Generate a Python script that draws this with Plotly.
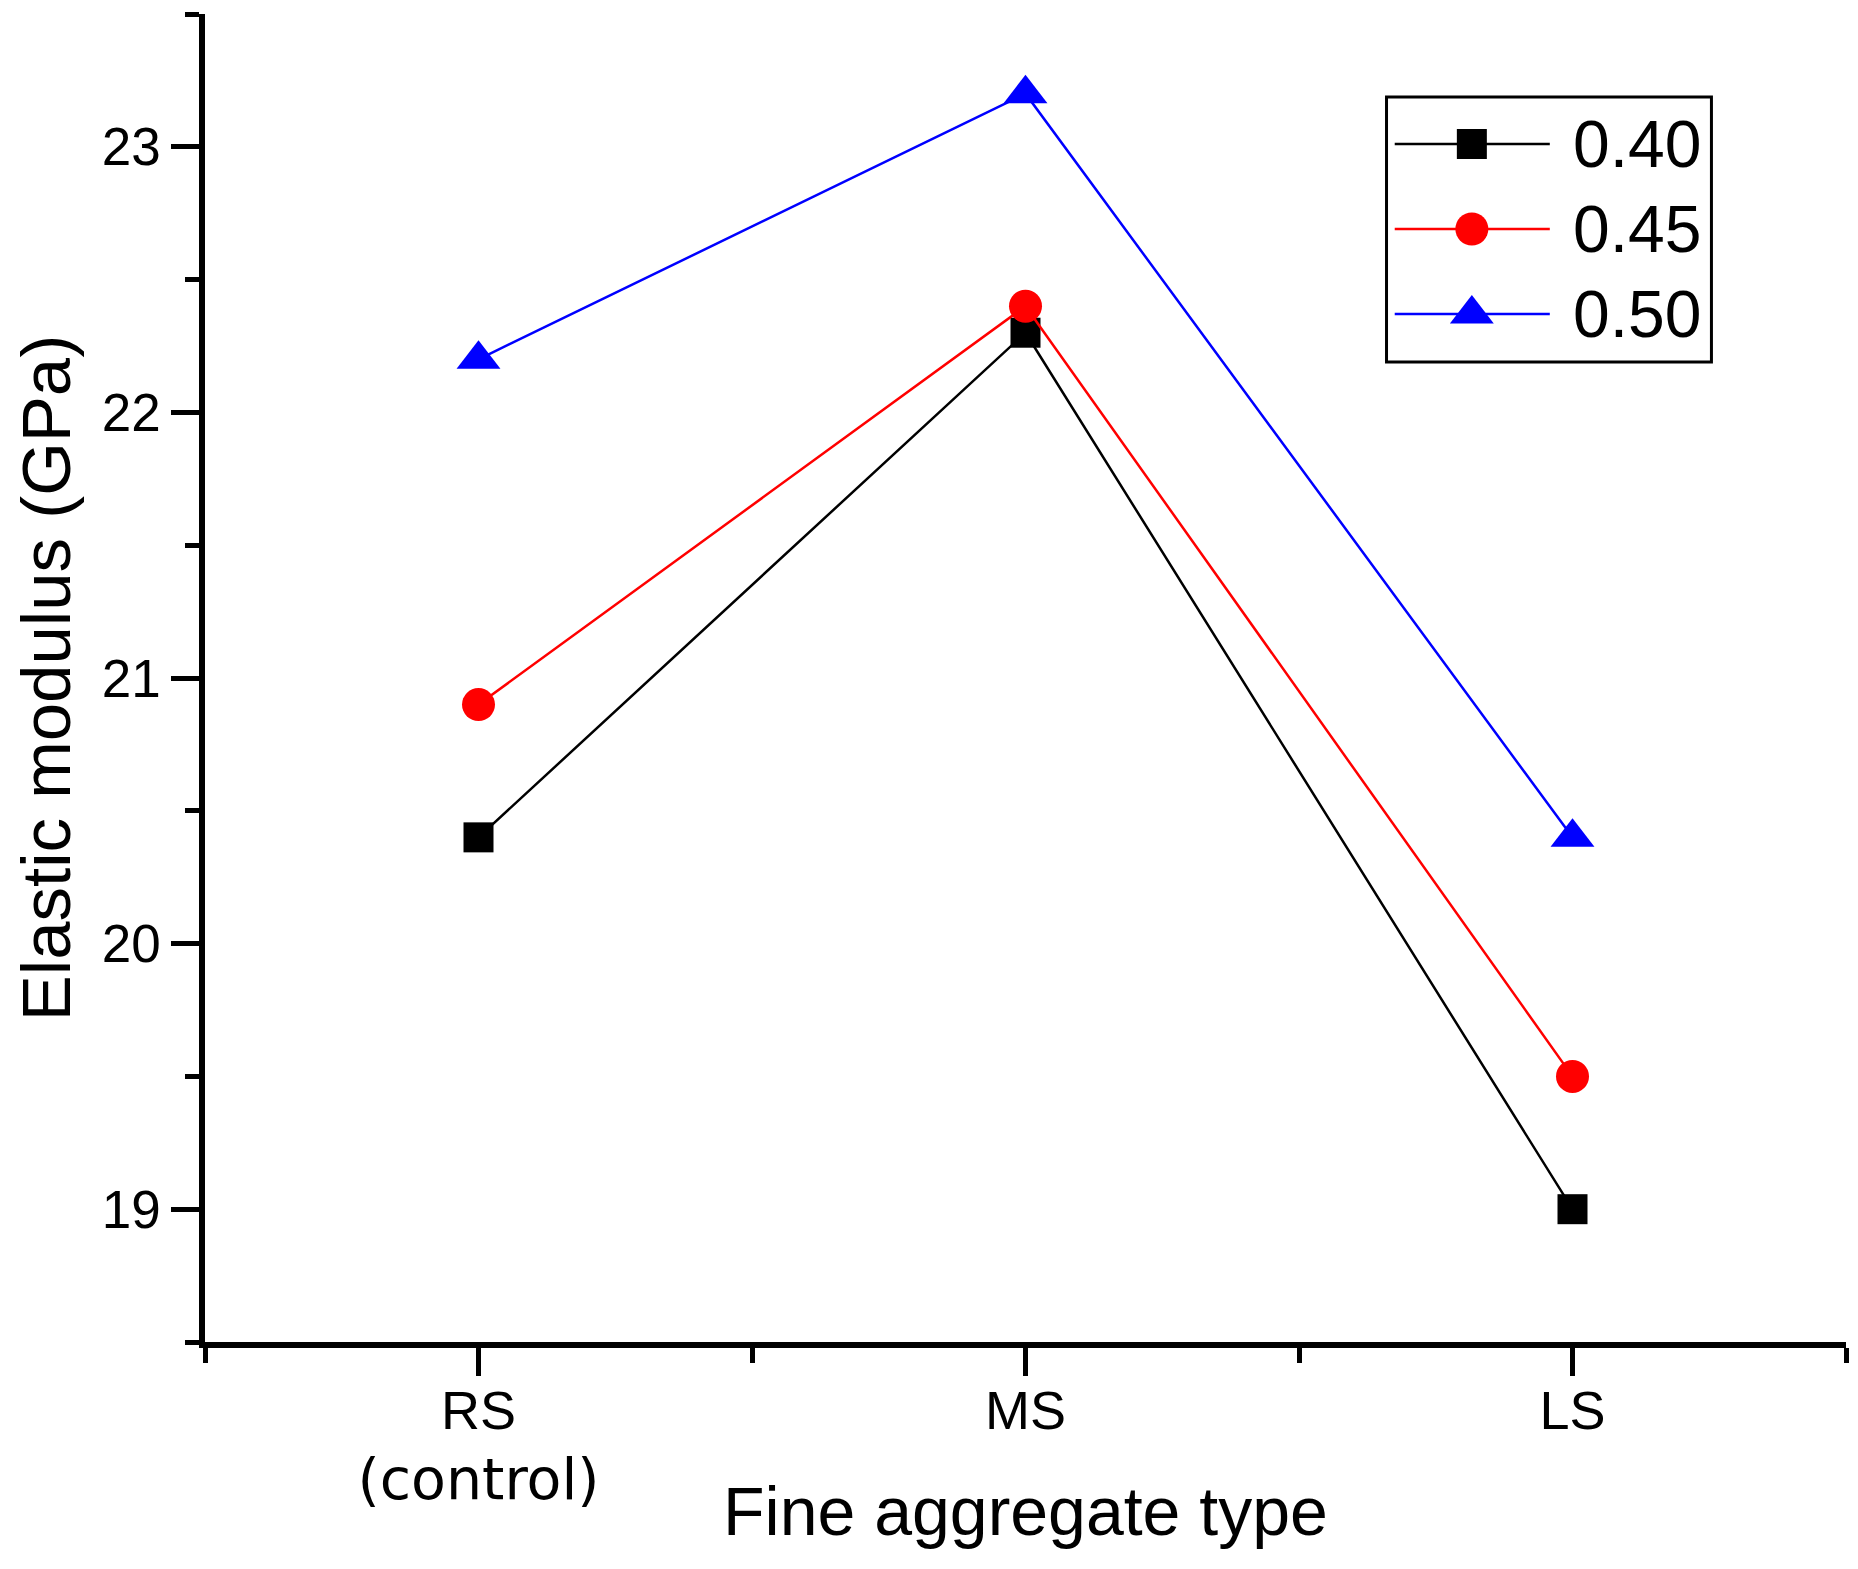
import plotly.graph_objects as go

# fine aggregate types on the x axis
categories = ["RS<br><span style='font-family:DejaVu Sans;font-size:57px'>(control)</span>", "MS", "LS"]
# water/cement ratio series
series_names = ["0.40", "0.45", "0.50"]
wc040 = [20.4, 22.3, 19.0]
wc045 = [20.9, 22.4, 19.5]
wc050 = [22.2, 23.2, 20.4]
y_ticks = [19, 20, 21, 22, 23]

colors = ["#000000", "#FF0000", "#0000FF"]
symbols = ["square", "circle", "triangle-up"]
sizes = [30, 33, 38]
font_family = "Arial, Liberation Sans, sans-serif"

fig = go.Figure()
xpos = list(range(len(categories)))
for name, vals, c, s, sz in zip(series_names, [wc040, wc045, wc050], colors, symbols, sizes):
  fig.add_trace(go.Scatter(x=xpos, y=vals, mode='lines+markers', name=name,
                           line=dict(color=c, width=2.5),
                           marker=dict(symbol=s, size=sz, color=c),
                           showlegend=False, cliponaxis=False))

# hand-made legend (plotly caps legend markers at 16px)
leg_rows = [0.9021, 0.8381, 0.7741]
for i, (name, c, s, sz) in enumerate(zip(series_names, colors, symbols, sizes)):
  fig.add_shape(type='line', xref='paper', yref='paper', x0=0.725, x1=0.8195,
                y0=leg_rows[i], y1=leg_rows[i], line=dict(color=c, width=2.5))
  fig.add_trace(go.Scatter(x=[0.772], y=[leg_rows[i]], xaxis='x2', yaxis='y2', mode='markers',
                           marker=dict(symbol=s, size=sz, color=c), showlegend=False,
                           cliponaxis=False, hoverinfo='skip'))
  fig.add_annotation(xref='paper', yref='paper', x=0.8323, y=leg_rows[i], text=name,
                     showarrow=False, xanchor='left', yanchor='middle',
                     font=dict(size=66, color='black', family=font_family))
fig.add_shape(type='rect', xref='paper', yref='paper', x0=0.720, x1=0.918, y0=0.738, y1=0.9375,
              line=dict(color='black', width=3), fillcolor='rgba(0,0,0,0)')

# x title as annotation so it can sit close to the two-line tick labels
fig.add_annotation(xref='paper', yref='paper', x=0.5, y=-0.097, text='Fine aggregate type',
                   showarrow=False, xanchor='center', yanchor='top',
                   font=dict(size=68, color='black', family=font_family))

# page body adds an 8px offset, so margins are shifted to compensate
fig.update_layout(
    width=1858, height=1569,
    margin=dict(l=197, r=20, t=6, b=235),
    plot_bgcolor='white', paper_bgcolor='white',
    font=dict(family=font_family, color='black'),
    showlegend=False,
    xaxis=dict(range=[-0.5, 2.5], tickvals=xpos, ticktext=categories, automargin=False,
               showline=True, linecolor='black', linewidth=5.5, showgrid=False, zeroline=False,
               ticks='outside', ticklen=28, tickwidth=5, tickcolor='black',
               tickfont=dict(size=54), ticklabelstandoff=-12,
               minor=dict(ticks='outside', ticklen=15, tickwidth=5, tickcolor='black', tick0=0.5, dtick=1)),
    yaxis=dict(range=[18.5, 23.5], tickvals=y_ticks, automargin=False,
               showline=True, linecolor='black', linewidth=5.5, showgrid=False, zeroline=False,
               ticks='outside', ticklen=28, tickwidth=5, tickcolor='black',
               tickfont=dict(size=53),
               minor=dict(ticks='outside', ticklen=14, tickwidth=5, tickcolor='black', tick0=18.5, dtick=0.5),
               title=dict(text='Elastic modulus (GPa)', font=dict(size=69), standoff=22)),
    xaxis2=dict(range=[0, 1], overlaying='x', visible=False),
    yaxis2=dict(range=[0, 1], overlaying='y', visible=False),
)

fig.write_html("out.html")
